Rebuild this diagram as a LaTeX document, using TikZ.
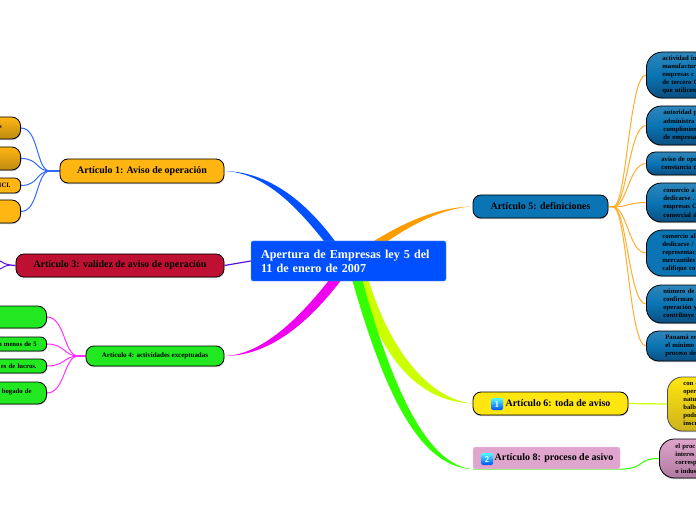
\documentclass[tikz,border=0pt]{standalone}
\usepackage{fontspec}
\setmainfont{Liberation Serif}
\usetikzlibrary{shadows,calc}
\pgfdeclarelayer{bg}
\pgfsetlayers{bg,main}
\definecolor{cBlue}{HTML}{0050FF}
\definecolor{lBlue}{HTML}{2F6BFF}
\definecolor{cOrange}{HTML}{FF9C00}
\definecolor{lOrange}{HTML}{FFAE2E}
\definecolor{cMag}{HTML}{F000F0}
\definecolor{lMag}{HTML}{FF30FF}
\definecolor{cGreen}{HTML}{33FF00}
\definecolor{cLime}{HTML}{CCFF00}
\definecolor{cPurple}{HTML}{5A10E0}
\definecolor{gold}{HTML}{FFB612}
\definecolor{goldD}{HTML}{BE8A12}
\definecolor{crim}{HTML}{BE1032}
\definecolor{grn}{HTML}{22E822}
\definecolor{sea}{HTML}{0A74B4}
\definecolor{seaL}{HTML}{2E86BA}
\definecolor{seaD}{HTML}{0B4F80}
\definecolor{yel}{HTML}{FFE610}
\definecolor{yelD}{HTML}{CDB31C}
\definecolor{pnk}{HTML}{DFA5CC}
\definecolor{pnkD}{HTML}{AE7AA0}
\newcommand{\tailgap}[1]{\rule{#1}{0pt}}
\tikzset{
  x=1bp,y=-1bp,
  mm/.style={draw=black,line width=0.8bp,inner sep=0pt,font=\bfseries,
    drop shadow={shadow xshift=0.4bp,shadow yshift=-1.2bp,opacity=.4,fill=black!60}},
  art/.style={mm,rounded corners=8bp,font=\bfseries\fontsize{10}{12}\selectfont,align=center},
  kidr/.style={mm,rounded corners=#1,anchor=west,minimum width=120bp,text width=120bp,align=left,
    font=\bfseries\fontsize{6.7}{8.2}\selectfont},
  kidl/.style={mm,rounded corners=#1,anchor=east,minimum width=90bp,text width=90bp,align=right,
    font=\bfseries\fontsize{6.7}{8.2}\selectfont},
  seag/.style={top color=seaL,bottom color=seaD,middle color=sea},
  goldg/.style={top color=gold,bottom color=goldD},
  icon/.style={rounded corners=1.5bp,top color=cyan!70!white,bottom color=blue!70!cyan,text=white,
    font=\sffamily\bfseries\fontsize{8.5}{9}\selectfont,minimum size=12bp,inner sep=0pt},
  twig/.style={line width=1bp},
}
\begin{document}
\begin{tikzpicture}
\useasboundingbox (0,0) rectangle (696,520);
\begin{scope}
\clip (0,0) rectangle (696,520);
% main nodes
\node[rectangle,rounded corners=2bp,fill=cBlue,draw=cBlue!60!white,line width=0.4bp,minimum width=195bp,minimum height=40bp,
  text width=175bp,align=left,text=white,inner sep=0pt,font=\bfseries\fontsize{12.2}{14}\selectfont] (ctr) at (348.5,261)
  {Apertura de Empresas ley 5 del\\11 de enero de 2007};
\node[art,fill=gold,minimum width=164bp,minimum height=24bp] (a1) at (142,171) {Artículo 1: Aviso de operación};
\node[art,fill=crim,minimum width=208bp,minimum height=23bp] (a3) at (120,265.5) {Artículo 3: validez de aviso de operación};
\node[art,fill=grn,minimum width=138bp,minimum height=20bp,font=\bfseries\fontsize{7}{9}\selectfont] (a4) at (155,356) {Artículo 4: actividades exceptuadas};
\node[art,fill=sea,minimum width=135bp,minimum height=23bp] (a5) at (540.5,206.5) {Artículo 5: definiciones};
\node[art,fill=yel,minimum width=155bp,minimum height=23bp] (a6) at (550.5,403.5) {\hspace*{15bp}Artículo 6: toda de aviso};
\node[rectangle,rounded corners=1.5bp,fill=pnk,draw=pnk!40!white,line width=0.4bp,inner sep=0pt,minimum width=147bp,minimum height=22bp,
  font=\bfseries\fontsize{10}{12}\selectfont] (a8) at (546.5,458) {\hspace*{15bp}Artículo 8: proceso de asivo};
\node[icon] (i6) at (497,404) {1};
\node[icon] (i8) at (487,459) {2};
% left children
\node[kidl=9bp,goldg,minimum height=22bp] (c1) at (21,128) {\raisebox{3bp}{s}\tailgap{19bp}};
\node[kidl=9bp,goldg,minimum height=23bp] (c2) at (21,158.5) {};
\node[kidl=6bp,fill=gold,minimum height=15bp] (c3) at (21,185.5) {ICI.\tailgap{10bp}};
\node[kidl=9bp,fill=gold,minimum height=23bp] (c4) at (21,211.5) {};
\node[kidl=9bp,fill=grn,minimum height=22bp] (g1) at (47,317) {};
\node[kidl=6bp,fill=grn,minimum height=14bp] (g2) at (47,344) {n menos de 5\tailgap{10bp}};
\node[kidl=6bp,fill=grn,minimum height=14bp] (g3) at (47,366) {es de lucros.\tailgap{10bp}};
\node[kidl=9bp,fill=grn,minimum height=22bp] (g4) at (47,393) {\raisebox{4bp}{bogado de}\tailgap{15bp}};
% right children
\node[kidr=16bp,seag,minimum height=46bp] (b1) at (646,75) {\hspace*{16bp}actividad in\\\hspace*{16bp}manufactur\\\hspace*{16bp}empresas c\\\hspace*{16bp}de tercero C\\\hspace*{16bp}que utilicen};
\node[kidr=15bp,seag,minimum height=39bp] (b2) at (646,125.5) {\hspace*{17bp}autoridad p\\\hspace*{17bp}administra\\\hspace*{17bp}cumplimien\\\hspace*{17bp}de empresa};
\node[kidr=9bp,seag,minimum height=23bp] (b3) at (646,163.5) {\hspace*{15bp}aviso de ope\\\hspace*{15bp}constancia d};
\node[kidr=15bp,seag,minimum height=39bp] (b4) at (646,202.5) {\hspace*{17bp}comercio a\\\hspace*{17bp}dedicarse .\\\hspace*{17bp}empresas C\\\hspace*{17bp}comercial d};
\node[kidr=16bp,fill=sea,minimum height=46bp] (b5) at (646,253) {\hspace*{16bp}comercio al\\\hspace*{16bp}dedicarse /\\\hspace*{16bp}representac\\\hspace*{16bp}mercantiles\\\hspace*{16bp}califique co};
\node[kidr=15bp,seag,minimum height=38bp] (b6) at (646,304) {\hspace*{17bp}número de\\\hspace*{17bp}confirman\\\hspace*{17bp}operación y\\\hspace*{17bp}contribuye};
\node[kidr=12bp,seag,minimum height=30bp] (b7) at (646,346) {\hspace*{19bp}Panamá en\\\hspace*{19bp}el mínimo\\\hspace*{19bp}proceso de};
\node[kidr=15bp,top color=yel,bottom color=yelD,draw=black!70,minimum height=54bp] (y1) at (667,404) {\hspace*{16bp}con e\\\hspace*{16bp}oper\\\hspace*{16bp}natu\\\hspace*{16bp}balb\\\hspace*{16bp}podr\\\hspace*{16bp}inscr};
\node[kidr=15bp,top color=pnk,bottom color=pnkD,minimum height=39bp] (p1) at (659,458.5) {\hspace*{16bp}el proc\\\hspace*{16bp}interes\\\hspace*{16bp}corresp\\\hspace*{16bp}o indus};
% free ends and hubs
\coordinate (fb) at (50,171);
\coordinate (fm) at (78,356);
\coordinate (fo) at (613,207);
\coordinate (fp) at (10,265);
\coordinate (pe1) at (-8,258);
\coordinate (pe2) at (-8,272);
\end{scope}
\begin{pgfonlayer}{bg}
\fill[white] (0,0) rectangle (696,520);
\clip (0,0) rectangle (696,520);
% thick tapered branches
\fill[cBlue] (a1.east) .. controls (272,172) and (312,206) .. (344,254) -- (334,254) .. controls (302,212) and (268,173) .. (a1.east);
\fill[cOrange] (a5.west) .. controls (440,207) and (405,220) .. (360,250) -- (375,250) .. controls (405,228) and (440,208) .. (a5.west);
\fill[cMag] (a4.east) .. controls (268,356) and (308,325) .. (345,275) -- (333,275) .. controls (300,318) and (262,355) .. (a4.east);
\fill[cLime] (a6.west) .. controls (435,400) and (392,360) .. (367,275) -- (357,275) .. controls (382,368) and (425,402) .. (a6.west);
\fill[cGreen] (a8.south west) .. controls (430,465) and (395,400) .. (360,272) -- (350,272) .. controls (386,402) and (422,467) .. (a8.south west);
\draw[cPurple,line width=1.2bp] (a3.east) -- (ctr.west);
% second level
\draw[cGreen,twig] (a8.south west) -- (a8.south east) .. controls (645,469) and (638,458) .. (p1.west);
\draw[cLime,line width=1.2bp] (a6.east) -- (y1.west);
\draw[lBlue,line width=2bp] (a1.west) -- (fb);
\draw[lMag,line width=1.6bp] (a4.west) -- (fm);
\draw[lOrange,line width=1.6bp] (a5.east) -- (fo);
\draw[cPurple,line width=1.2bp] (a3.west) -- (fp);
\foreach \k in {c1,c2,c3,c4}{\draw[lBlue,twig] (fb) .. controls (36,171) and ($(\k.east)+(18,0)$) .. (\k.east);}
\foreach \k in {g1,g2,g3,g4}{\draw[lMag,twig] (fm) .. controls (64,356) and ($(\k.east)+(18,0)$) .. (\k.east);}
\foreach \k in {b1,b2,b3,b4,b5,b6,b7}{\draw[lOrange,twig] (fo) .. controls (627,207) and ($(\k.west)+(-17,0)$) .. (\k.west);}
\foreach \k in {pe1,pe2}{\draw[cPurple,twig] (fp) .. controls (4,265) and ($(\k)+(6,0)$) .. (\k);}
\end{pgfonlayer}
\end{tikzpicture}
\end{document}
